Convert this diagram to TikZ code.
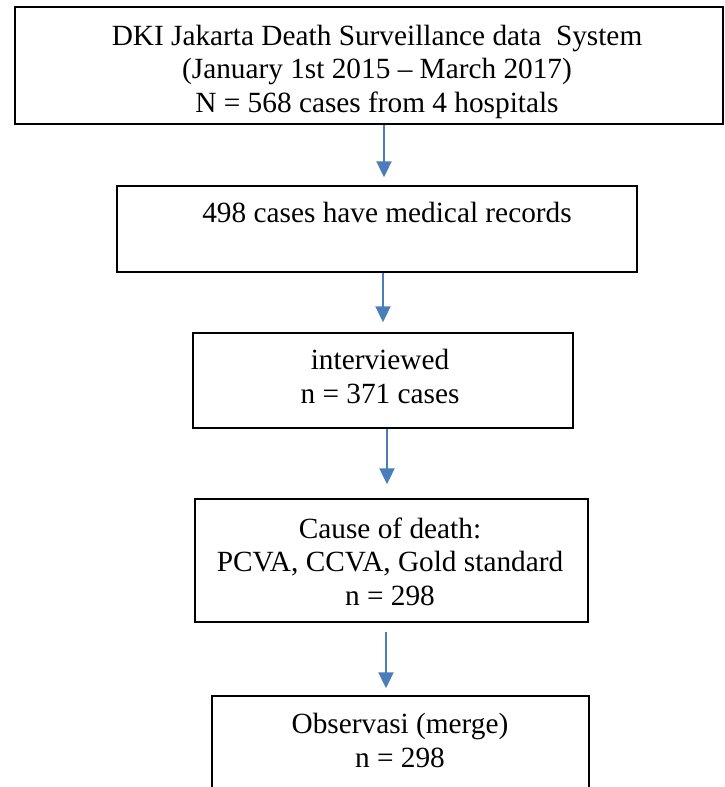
\documentclass[tikz,border=0pt]{standalone}
\usepackage{fontspec}
\setmainfont{Liberation Serif}
\usetikzlibrary{arrows.meta}
\definecolor{arrblue}{RGB}{74,126,187}
\tikzset{
  box/.style={draw=black, line width=1.4pt, rectangle, inner sep=0pt},
  txt/.style={align=center, inner sep=0pt, anchor=base, font=\fontsize{29.3}{33.5}\selectfont},
  arr/.style={draw=arrblue, line width=2pt, -{Triangle[width=15pt,length=16pt]}}
}
\begin{document}
\begin{tikzpicture}[x=1pt,y=1pt]
\clip (0,0) rectangle (724,-787);
\fill[white] (0,0) rectangle (724,-787);
% boxes
\node[box, minimum width=708pt, minimum height=117pt] (b1) at (369,-65.5) {};
\node[box, minimum width=520pt, minimum height=86pt] (b2) at (377,-229) {};
\node[box, minimum width=380pt, minimum height=95pt] (b3) at (383,-380.5) {};
\node[box, minimum width=393pt, minimum height=123pt] (b4) at (391.5,-560.5) {};
\node[box, minimum width=377pt, minimum height=204pt] (b5) at (400.5,-798) {};
% texts (base anchor = baseline of last line)
\node[txt] (t1) at (377,-112) {DKI Jakarta Death Surveillance data~~System\\(January 1st 2015 – March 2017)\\N = 568 cases from 4 hospitals};
\node[txt] (t2) at (387,-222) {498 cases have medical records};
\node[txt] (t3) at (380,-403) {interviewed\\n = 371 cases};
\node[txt] (t4) at (390,-605) {Cause of death:\\PCVA, CCVA, Gold standard\\n = 298};
\node[txt] (t5) at (400,-767) {Observasi (merge)\\n = 298};
% connectors
\draw[arr, shorten >=8pt] ([xshift=15pt]b1.south) -- ([xshift=7pt]b2.north);
\draw[arr, shorten >=10pt] ([xshift=6pt]b2.south) -- ([xshift=0pt]b3.north);
\draw[arr, shorten >=14pt] ([xshift=4pt]b3.south) -- ([xshift=-4.5pt]b4.north);
\draw[arr, shorten <=9pt, shorten >=7pt] ([xshift=-5.5pt]b4.south) -- ([xshift=-14.5pt]b5.north);
\end{tikzpicture}
\end{document}
